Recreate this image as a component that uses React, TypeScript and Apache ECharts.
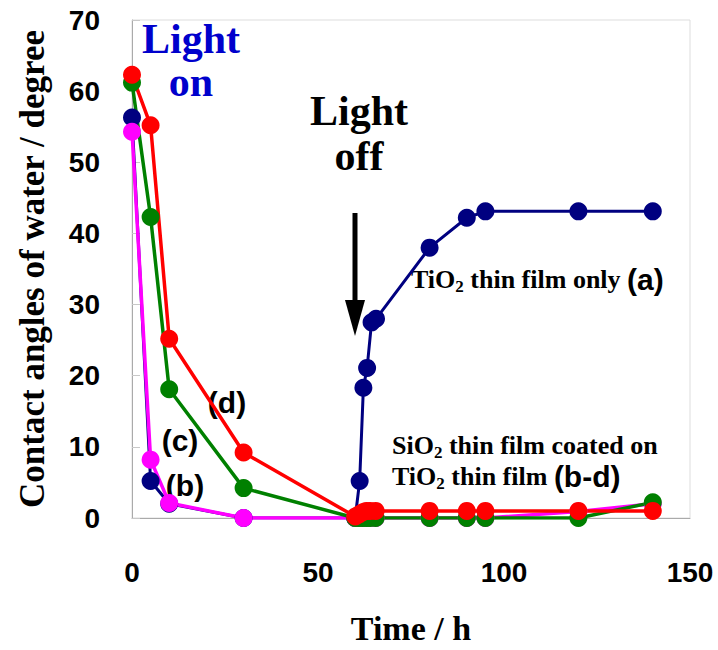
import React, { useEffect, useRef } from "react";
import * as echarts from "echarts";

// Time (h) for each sample series
const timesA = [0, 5, 10, 30, 60, 61.2, 62.2, 63.2, 64.4, 65.6, 80, 90, 95, 120, 140];
const valuesA = [56.3, 5.2, 2.0, 0, 0, 5.2, 18.3, 21.1, 27.5, 28.0, 38.0, 42.2, 43.1, 43.1, 43.1];

const timesB = [0, 5, 10, 30, 60, 61, 62, 63, 64, 65.5, 80, 90, 95, 120, 140];
const valuesB = [54.3, 8.2, 2.1, 0, 0, 0, 0, 0, 0, 0, 0, 0, 0, 0.9, 2.0];

const timesC = [0, 5, 10, 30, 60, 61, 62, 63, 64, 65.5, 80, 90, 95, 120, 140];
const valuesC = [61.2, 42.3, 18.1, 4.2, 0, 0, 0, 0, 0, 0, 0, 0, 0, 0, 2.2];

const timesD = [0, 5, 10, 30, 60, 61, 62, 63, 64, 65.5, 80, 90, 95, 120, 140];
const valuesD = [62.3, 55.2, 25.2, 9.2, 0.2, 0.5, 0.8, 1.0, 1.0, 1.0, 1.0, 1.0, 1.0, 1.0, 1.0];

const xTicks = [0, 50, 100, 150];
const yTicks = [0, 10, 20, 30, 40, 50, 60, 70];

const SERIF = '"Liberation Serif", "Times New Roman", serif';
const SANS = '"Liberation Sans", Arial, sans-serif';

const pair = (t: number[], v: number[]) => t.map((x, i) => [x, v[i]]);

export default function App() {
  const ref = useRef<HTMLDivElement>(null);
  useEffect(() => {
    if (!ref.current) return;
    const chart = echarts.init(ref.current, null, { renderer: "svg" });
    const mk = (name: string, data: number[][], color: string, width: number) => ({
      name,
      type: "line",
      data,
      symbol: "circle",
      symbolSize: 18,
      lineStyle: { color, width },
      itemStyle: { color },
      animation: false,
    });
    const subRich = (color: string) => ({
      m: { fontFamily: SERIF, fontWeight: "bold", fontSize: 26, lineHeight: 31, color, verticalAlign: "middle" },
      s: { fontFamily: SERIF, fontWeight: "bold", fontSize: 17, lineHeight: 17, color, verticalAlign: "bottom" },
      p: { fontFamily: SANS, fontWeight: "bold", fontSize: 30, lineHeight: 31, color, verticalAlign: "middle" },
    });
    chart.setOption({
      animation: false,
      grid: {
        left: 132,
        right: 28,
        top: 20,
        bottom: 127,
        show: true,
        borderColor: "#dddddd",
        borderWidth: 1,
      },
      xAxis: {
        type: "value",
        min: xTicks[0],
        max: xTicks[xTicks.length - 1],
        interval: 50,
        name: "Time / h",
        nameLocation: "middle",
        nameGap: 93,
        nameTextStyle: { fontFamily: SERIF, fontWeight: "bold", fontSize: 34, color: "#000" },
        axisLine: { show: true, lineStyle: { color: "#aaaaaa", width: 1 } },
        axisTick: { show: false },
        splitLine: { show: false },
        axisLabel: { fontFamily: SANS, fontWeight: "bold", fontSize: 28, color: "#000", margin: 40 },
      },
      yAxis: {
        type: "value",
        min: yTicks[0],
        max: yTicks[yTicks.length - 1],
        interval: 10,
        name: "Contact angles of water / degree",
        nameLocation: "middle",
        nameGap: 82,
        nameTextStyle: { fontFamily: SERIF, fontWeight: "bold", fontSize: 35, color: "#000" },
        axisLine: { show: true, lineStyle: { color: "#aaaaaa", width: 1 } },
        axisTick: { show: true, inside: true, length: 8, lineStyle: { color: "#c8c8c8" } },
        splitLine: { show: false },
        axisLabel: { fontFamily: SANS, fontWeight: "bold", fontSize: 28, color: "#000", margin: 32 },
      },
      series: [
        mk("a", pair(timesA, valuesA), "#000080", 3),
        mk("b", pair(timesB, valuesB), "#ff00ff", 3.5),
        mk("c", pair(timesC, valuesC), "#008000", 3.5),
        mk("d", pair(timesD, valuesD), "#ff0000", 3.5),
      ],
      graphic: [
        {
          type: "text",
          x: 191,
          y: 17,
          style: {
            text: "Light\non",
            align: "center",
            verticalAlign: "top",
            font: `bold 42px ${SERIF}`,
            lineHeight: 43,
            fill: "#0000cc",
          },
        },
        {
          type: "text",
          x: 359,
          y: 88,
          style: {
            text: "Light\noff",
            align: "center",
            verticalAlign: "top",
            font: `bold 42px ${SERIF}`,
            lineHeight: 45,
            fill: "#000000",
          },
        },
        {
          type: "rect",
          shape: { x: 352.5, y: 213, width: 5, height: 92 },
          style: { fill: "#000" },
        },
        {
          type: "polygon",
          shape: { points: [[345, 300], [365, 300], [355, 336]] },
          style: { fill: "#000" },
        },
        {
          type: "text",
          x: 411,
          y: 264,
          style: {
            text: "{m|TiO}{s|2}{m| thin film only }{p|(a)}",
            rich: subRich("#0000aa"),
            verticalAlign: "top",
            align: "left",
          },
        },
        {
          type: "text",
          x: 392,
          y: 430,
          style: {
            text: "{m|SiO}{s|2}{m| thin film coated on}\n{m|TiO}{s|2}{m| thin film }{p|(b-d)}",
            rich: subRich("#008000"),
            verticalAlign: "top",
            align: "left",
          },
        },
        {
          type: "text",
          x: 227,
          y: 402,
          style: { text: "(d)", align: "center", verticalAlign: "middle", font: `bold 30px ${SANS}`, fill: "#000" },
        },
        {
          type: "text",
          x: 180,
          y: 440,
          style: { text: "(c)", align: "center", verticalAlign: "middle", font: `bold 30px ${SANS}`, fill: "#000" },
        },
        {
          type: "text",
          x: 185,
          y: 485,
          style: { text: "(b)", align: "center", verticalAlign: "middle", font: `bold 30px ${SANS}`, fill: "#000" },
        },
      ],
    });
    return () => chart.dispose();
  }, []);
  return <div ref={ref} style={{ width: 718, height: 650, position: "absolute", left: 0, top: 0 }} />;
}
